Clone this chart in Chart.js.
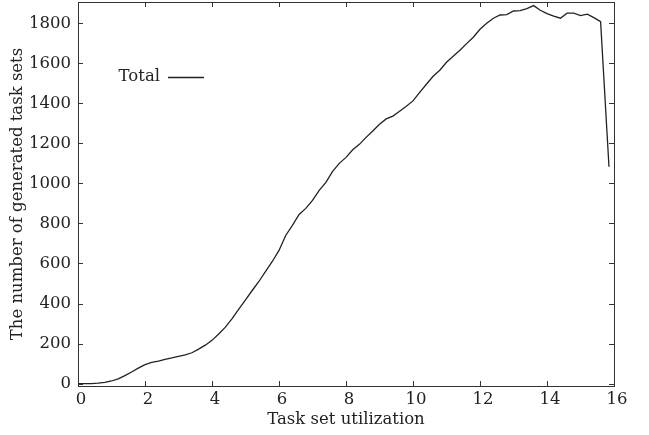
<!DOCTYPE html>
<html>
<head>
<meta charset="utf-8">
<script src="https://cdn.jsdelivr.net/npm/chart.js@4/dist/chart.umd.min.js"></script>
<style>
  html, body { margin: 0; padding: 0; background: #fff; }
  #wrap { width: 649px; height: 435px; }
</style>
</head>
<body>
<div id="wrap"><canvas id="c" width="649" height="435"></canvas></div>
<script>
// ---- data ----
const utilization = [0.0,0.2,0.4,0.6,0.8,1.0,1.2,1.4,1.6,1.8,2.0,2.2,2.4,2.6,2.8,3.0,3.2,3.4,3.6,3.8,
  4.0,4.2,4.4,4.6,4.8,5.0,5.2,5.4,5.6,5.8,6.0,6.2,6.4,6.6,6.8,7.0,7.2,7.4,7.6,7.8,
  8.0,8.2,8.4,8.6,8.8,9.0,9.2,9.4,9.6,9.8,10.0,10.2,10.4,10.6,10.8,11.0,11.2,11.4,11.6,11.8,
  12.0,12.2,12.4,12.6,12.8,13.0,13.2,13.4,13.6,13.8,14.0,14.2,14.4,14.6,14.8,15.0,15.2,15.4,15.6,15.85];
const totalSets = [0,0,0,2,6,13,24,40,58,77,95,106,112,121,128,136,143,154,172,192,
  216,248,282,325,372,418,465,510,560,610,665,740,790,845,875,915,965,1005,1060,1100,
  1130,1168,1195,1230,1262,1295,1322,1336,1360,1385,1412,1455,1495,1535,1565,1605,1635,1665,1698,1730,
  1770,1800,1825,1841,1843,1861,1863,1873,1888,1865,1848,1835,1825,1850,1850,1838,1845,1828,1808,1083];
const seriesName = 'Total';
const xTickValues = [0,2,4,6,8,10,12,14,16];
const yTickValues = [0,200,400,600,800,1000,1200,1400,1600,1800];
const xTitle = 'Task set utilization';
const yTitle = 'The number of generated task sets';

const FONT = 'DejaVu Serif';
const INK = '#222';

const points = utilization.map((x, i) => ({ x: x, y: totalSets[i] }));

const framePlugin = {
  id: 'frame',
  afterDatasetsDraw(chart) {
    const { ctx, chartArea: a, scales } = chart;
    const xs = scales.x, ys = scales.y;
    ctx.save();
    ctx.strokeStyle = '#333';
    ctx.lineWidth = 1;
    ctx.strokeRect(Math.round(a.left) + 0.5, Math.round(a.top) + 0.5,
      Math.round(a.right - a.left), Math.round(a.bottom - a.top));
    const L = 5;
    ctx.beginPath();
    xTickValues.forEach(v => {
      const p = Math.round(xs.getPixelForValue(v)) + 0.5;
      ctx.moveTo(p, a.bottom); ctx.lineTo(p, a.bottom - L);
      ctx.moveTo(p, a.top); ctx.lineTo(p, a.top + L);
    });
    yTickValues.forEach(v => {
      const p = Math.round(ys.getPixelForValue(v)) + 0.5;
      ctx.moveTo(a.left, p); ctx.lineTo(a.left + L, p);
      ctx.moveTo(a.right, p); ctx.lineTo(a.right - L, p);
    });
    ctx.stroke();
    // legend (gnuplot style: text then line sample)
    const ds = chart.data.datasets[0];
    const ly = a.top + 75;
    ctx.font = '16.5px "' + FONT + '"';
    ctx.fillStyle = INK;
    ctx.textAlign = 'right';
    ctx.textBaseline = 'middle';
    ctx.fillText(ds.label, a.left + 82, ly);
    ctx.strokeStyle = ds.borderColor;
    ctx.lineWidth = ds.borderWidth;
    ctx.beginPath();
    ctx.moveTo(a.left + 90, ly + 0.5);
    ctx.lineTo(a.left + 126, ly + 0.5);
    ctx.stroke();
    ctx.restore();
  }
};

new Chart(document.getElementById('c'), {
  type: 'scatter',
  data: {
    datasets: [{
      label: seriesName,
      data: points,
      showLine: true,
      borderColor: INK,
      borderWidth: 1.3,
      pointRadius: 0,
      tension: 0,
      fill: false
    }]
  },
  options: {
    responsive: false,
    animation: false,
    events: [],
    layout: { padding: { top: 2, right: 35, left: 0, bottom: 0 } },
    plugins: { legend: { display: false }, tooltip: { enabled: false } },
    scales: {
      x: {
        type: 'linear', min: 0, max: 16,
        afterBuildTicks: s => { s.ticks = xTickValues.map(v => ({ value: v })); },
        afterFit: s => { s.height = 49; s.paddingLeft = 0; s.paddingRight = 0; },
        grid: { display: false, drawTicks: false },
        border: { display: false },
        ticks: { color: INK, font: { family: FONT, size: 16.5 }, padding: 4, labelOffset: 3, maxRotation: 0,
                 callback: v => String(v) },
        title: { display: true, text: xTitle, color: INK, font: { family: FONT, size: 16.5 }, padding: { top: 0, bottom: 5 } }
      },
      y: {
        type: 'linear', min: -12, max: 1906,
        afterBuildTicks: s => { s.ticks = yTickValues.map(v => ({ value: v })); },
        afterFit: s => { s.width = 78; s.paddingTop = 0; s.paddingBottom = 0; },
        grid: { display: false, drawTicks: false },
        border: { display: false },
        ticks: { color: INK, font: { family: FONT, size: 16.5 }, padding: 7, callback: v => String(v) },
        title: { display: true, text: yTitle, color: INK, font: { family: FONT, size: 16.5 }, padding: { top: 8, bottom: 0 } }
      }
    }
  },
  plugins: [framePlugin]
});
</script>
</body>
</html>
